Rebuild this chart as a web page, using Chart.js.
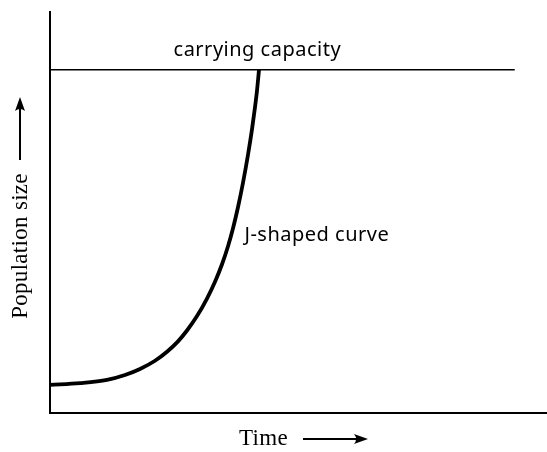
<!DOCTYPE html>
<html>
<head>
<meta charset="utf-8">
<script src="https://cdn.jsdelivr.net/npm/chart.js@4/dist/chart.umd.min.js"></script>
<style>
  html, body { margin: 0; padding: 0; background: #fff; }
  #wrap { width: 547px; height: 452px; }
</style>
</head>
<body>
<div id="wrap"><canvas id="myChart"></canvas></div>
<script>
// time (x) and population size (y) along the J-shaped growth curve
var timeVals = [0, 6.05, 11.49, 15.12, 18.15, 21.17, 23.59, 25.81, 27.62, 29.64, 31.65,
                33.27, 34.68, 35.89, 36.90, 37.90, 38.91, 39.92, 40.73, 41.33, 41.73, 42.14];
var popVals  = [7.00, 7.45, 8.25, 9.47, 10.97, 13.03, 15.28, 17.87, 20.57, 24.18, 28.55,
                32.74, 37.10, 41.59, 46.08, 51.31, 57.42, 64.41, 70.79, 76.25, 80.34, 85.6];

// carrying capacity level and how far its line runs along the time axis
var capacity = 85.6;
var capacitySpan = [0, 93.7];

var xLabel = 'Time';
var yLabel = 'Population size';
var capLabel = 'carrying capacity';
var curveLabel = 'J-shaped curve';

var curvePoints = timeVals.map(function (t, i) { return {x: t, y: popVals[i]}; });
var capPoints = capacitySpan.map(function (t) { return {x: t, y: capacity}; });

function arrow(ctx, x1, y1, x2, y2) {
  var ang = Math.atan2(y2 - y1, x2 - x1);
  var len = 14, half = 5;
  ctx.beginPath();
  ctx.moveTo(x1, y1);
  ctx.lineTo(x2 - Math.cos(ang) * len * 0.6, y2 - Math.sin(ang) * len * 0.6);
  ctx.lineWidth = 2;
  ctx.stroke();
  ctx.beginPath();
  ctx.moveTo(x2, y2);
  ctx.lineTo(x2 - Math.cos(ang) * len - Math.sin(ang) * half, y2 - Math.sin(ang) * len + Math.cos(ang) * half);
  ctx.quadraticCurveTo(x2 - Math.cos(ang) * len * 0.7, y2 - Math.sin(ang) * len * 0.7,
                       x2 - Math.cos(ang) * len + Math.sin(ang) * half, y2 - Math.sin(ang) * len - Math.cos(ang) * half);
  ctx.closePath();
  ctx.fill();
}

// text labels and axis arrows
var labelPlugin = {
  id: 'labels',
  afterDraw: function (chart) {
    var ctx = chart.ctx;
    var xs = chart.scales.x, ys = chart.scales.y;
    ctx.save();
    ctx.fillStyle = '#000';
    ctx.strokeStyle = '#000';

    ctx.font = '20px "Noto Sans"';
    ctx.letterSpacing = '0.5px';
    ctx.textAlign = 'center';
    ctx.textBaseline = 'alphabetic';
    ctx.fillText(capLabel, xs.getPixelForValue(41.8), ys.getPixelForValue(capacity) - 14);

    ctx.textAlign = 'left';
    ctx.fillText(curveLabel, xs.getPixelForValue(39.2), ys.getPixelForValue(43));

    // x axis title + arrow
    ctx.font = '23px "Liberation Serif"';
    ctx.letterSpacing = '0.3px';
    ctx.textAlign = 'left';
    ctx.fillText(xLabel, 239, 445);
    arrow(ctx, 303, 439, 368, 439);

    // y axis title + arrow
    ctx.save();
    ctx.translate(27, 246);
    ctx.rotate(-Math.PI / 2);
    ctx.textAlign = 'center';
    ctx.fillText(yLabel, 0, 0);
    ctx.restore();
    arrow(ctx, 20, 160, 20, 97);

    ctx.restore();
  }
};

new Chart(document.getElementById('myChart'), {
  type: 'scatter',
  data: {
    datasets: [{
      label: 'capacity',
      data: capPoints,
      showLine: true,
      borderColor: '#000',
      borderWidth: 1.6,
      pointRadius: 0,
      fill: false
    }, {
      label: 'J curve',
      data: curvePoints,
      showLine: true,
      borderColor: '#000',
      borderWidth: 3.8,
      borderJoinStyle: 'round',
      pointRadius: 0,
      cubicInterpolationMode: 'monotone',
      fill: false
    }]
  },
  options: {
    responsive: true,
    maintainAspectRatio: false,
    animation: false,
    layout: { padding: { left: 42, right: 1, top: 12, bottom: 31 } },
    plugins: { legend: { display: false }, tooltip: { enabled: false } },
    scales: {
      x: {
        type: 'linear', min: 0, max: 100,
        grid: { display: false },
        ticks: { display: false },
        border: { display: true, color: '#000', width: 2 }
      },
      y: {
        type: 'linear', min: 0, max: 100,
        grid: { display: false },
        ticks: { display: false },
        border: { display: true, color: '#000', width: 2 }
      }
    }
  },
  plugins: [labelPlugin]
});
</script>
</body>
</html>
